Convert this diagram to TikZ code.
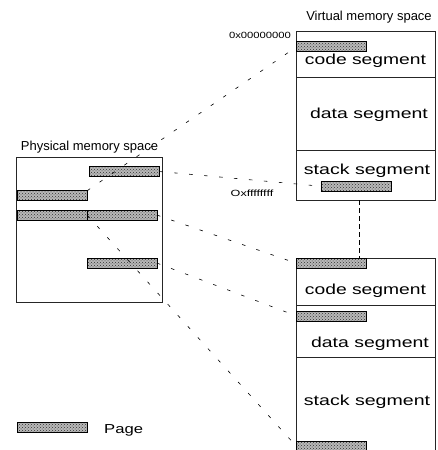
\documentclass[tikz,border=0pt]{standalone}
\usepackage{graphicx}
\usepackage{fontspec}
\setmainfont{Liberation Sans}
\usetikzlibrary{patterns}
\begin{document}
\begin{tikzpicture}[x=1pt,y=-1pt,
  boxline/.style={draw=black!85, line width=0.7pt},
  pagebox/.style={draw, line width=0.6pt, preaction={fill=black!28},
    pattern=crosshatch dots, pattern color=black!80, minimum width=70pt,
    minimum height=10pt, inner sep=0pt, outer sep=0pt},
  frame/.style={boxline, inner sep=0pt, outer sep=0pt},
  link/.style={line width=0.6pt, dash pattern=on 3.5pt off 11.5pt},
  vlink/.style={line width=0.5pt, dash pattern=on 4.5pt off 3.5pt},
  seglabel/.style={anchor=base, inner sep=0pt, font=\fontsize{14.5}{17}\selectfont},
  title/.style={anchor=base, inner sep=0pt, font=\fontsize{13}{15}\selectfont},
  addr/.style={anchor=base, inner sep=0pt, font=\fontsize{9}{11}\selectfont}]
\useasboundingbox (0,0) rectangle (438,450);
\clip (0,0) rectangle (438,450);

% physical memory
\node[frame, minimum width=145.6pt, minimum height=144.7pt] (phys) at (89.5,229.6) {};
\node[title] (physlabel) at (89.5,150) {Physical memory space};
\node[pagebox] (pp1) at (124.3,171.5) {};
\node[pagebox] (pp2) at (52.2,195.7) {};
\node[pagebox] (pp3a) at (52.2,215.1) {};
\node[pagebox] (pp3b) at (122,215.1) {};
\node[pagebox] (pp4) at (122,263.1) {};

% top virtual memory
\node[frame, minimum width=138.3pt, minimum height=168.3pt] (vtop) at (365.85,115.85) {};
\node[title] (vlabel) at (369,20) {Virtual memory space};
\coordinate (d1l) at (296.7,77.7);
\coordinate (d1r) at (435,77.7);
\coordinate (d2l) at (296.7,150);
\coordinate (d2r) at (435,150);
\draw[boxline] (d1l) -- (d1r);
\draw[boxline] (d2l) -- (d2r);
\node[pagebox] (vc) at (331.7,46.7) {};
\node[pagebox] (vs) at (355.8,186.2) {};
\node[seglabel] (tcode) at (365.5,64.7) {\scalebox{1.33}[1]{code segment}};
\node[seglabel] (tdata) at (369,118.7) {\scalebox{1.34}[1]{data segment}};
\node[seglabel] (tstack) at (367,174) {\scalebox{1.35}[1]{stack segment}};
\node[addr] (a0) at (260,38.3) {\scalebox{1.25}[1]{0x00000000}};
\node[addr] (af) at (252,196.3) {\scalebox{1.4}[1]{Oxffffffff}};

% lower virtual memory
\coordinate (lbl) at (296.7,460);
\coordinate (ltl) at (296.7,258.3);
\coordinate (ltr) at (435,258.3);
\coordinate (lbr) at (435,460);
\draw[boxline] (lbl) -- (ltl) -- (ltr) -- (lbr);
\coordinate (e1l) at (296.7,305);
\coordinate (e1r) at (435,305);
\coordinate (e2l) at (296.7,357.3);
\coordinate (e2r) at (435,357.3);
\draw[boxline] (e1l) -- (e1r);
\draw[boxline] (e2l) -- (e2r);
\node[pagebox] (lc) at (331.7,263.3) {};
\node[pagebox] (ld) at (331.7,316) {};
\node[pagebox] (ls) at (331.7,446.7) {};
\node[seglabel] (bcode) at (365.5,294.5) {\scalebox{1.33}[1]{code segment}};
\node[seglabel] (bdata) at (370,347) {\scalebox{1.34}[1]{data segment}};
\node[seglabel] (bstack) at (367,405) {\scalebox{1.35}[1]{stack segment}};

% links
\coordinate (vl1) at (359,200);
\coordinate (vl2) at (359,258.3);
\draw[vlink] (vl1) -- (vl2);
\draw[link] (pp2.north east) -- (vc.west);
\draw[link] (pp1.east) -- (vs.west);
\draw[link] (pp3b.east) -- (lc.west);
\draw[link] (pp4.east) -- (ld.west);
\draw[link] (pp3a.east) -- (ls.west);

% legend
\node[pagebox] (leg) at (52.2,427.5) {};
\node[title, anchor=base west] (legtext) at (104,433.5) {\scalebox{1.28}[1]{Page}};
\end{tikzpicture}
\end{document}
